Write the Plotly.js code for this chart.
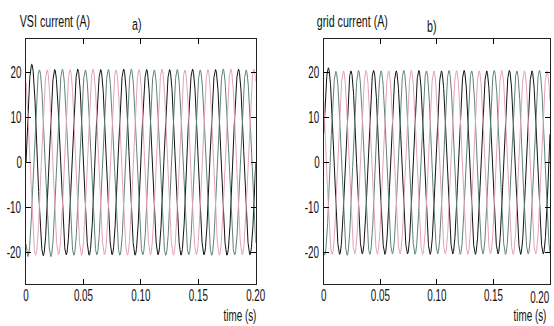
<!DOCTYPE html>
<html>
<head>
<meta charset="utf-8">
<script src="https://cdn.plot.ly/plotly-3.0.1.min.js"></script>
<style>html,body{margin:0;padding:0;background:#fff;}#chart{width:554px;height:326px;}</style>
</head>
<body>
<div id="chart"></div>
<script>
// ---- data ----
const freqHz = 50;                 // grid frequency (30 peaks in 0.2 s for 3 phases)
const tStart = 0, tEnd = 0.2;
const phaseShiftDeg = [0, -120, 120];          // phases a, b, c
const phaseColors = ['#111111', '#5f8279', '#e3a3b6'];
// peak values per half-cycle (positive peak, negative peak) for 10 cycles
const vsiPosPeaks = [
  [21.9, 20.7, 20.8, 20.7, 20.8, 20.7, 20.7, 20.8, 20.7, 20.8],
  [20.6, 20.8, 20.6, 20.7, 20.8, 20.6, 20.7, 20.6, 20.8, 20.6],
  [20.8, 20.6, 20.7, 20.8, 20.6, 20.7, 20.8, 20.6, 20.7, 20.8]
];
const vsiNegPeaks = [
  [20.7, 20.5, 20.6, 20.5, 20.6, 20.5, 20.6, 20.5, 20.6, 20.5],
  [20.9, 20.6, 20.5, 20.6, 20.5, 20.6, 20.5, 20.6, 20.5, 20.6],
  [20.6, 20.5, 20.6, 20.5, 20.6, 20.5, 20.6, 20.5, 20.6, 20.5]
];
const gridPosPeaks = [
  [21.1, 20.4, 20.5, 20.4, 20.5, 20.4, 20.5, 20.4, 20.5, 20.4],
  [20.3, 20.5, 20.4, 20.5, 20.4, 20.5, 20.4, 20.5, 20.4, 20.5],
  [20.5, 20.4, 20.5, 20.4, 20.5, 20.4, 20.5, 20.4, 20.5, 20.4]
];
const gridNegPeaks = [
  [20.4, 20.3, 20.4, 20.3, 20.4, 20.3, 20.4, 20.3, 20.4, 20.3],
  [20.6, 20.4, 20.3, 20.4, 20.3, 20.4, 20.3, 20.4, 20.3, 20.4],
  [20.4, 20.3, 20.4, 20.3, 20.4, 20.3, 20.4, 20.3, 20.4, 20.3]
];
const gridPhaseLagDeg = 18;         // grid current slightly shifted vs VSI current
const xTickVals = [0, 0.05, 0.10, 0.15, 0.20];
const xTickText = ['0', '0.05', '0.10', '0.15', '0.20'];
const yTickVals = [20, 10, 0, -10, -20];
const yTickText = ['20', '10', '0', '-10', '-20'];

// ---- build waveforms from the read peaks ----
const N = 1601;
const timeS = [];
for (let i = 0; i < N; i++) timeS.push(tStart + (tEnd - tStart) * i / (N - 1));

function wave(pos, neg, shiftDeg) {
  const w = 2 * Math.PI * freqHz;
  const sh = shiftDeg * Math.PI / 180;
  return timeS.map(t => {
    const ang = w * t + sh;
    const s = Math.sin(ang);
    let cyc = Math.floor(ang / (2 * Math.PI));
    cyc = Math.max(0, Math.min(pos.length - 1, cyc));
    return s >= 0 ? s * pos[cyc] : s * neg[cyc];
  });
}

const traces = [];
[0, 1, 2].forEach(k => {
  traces.push({x: timeS, y: wave(vsiPosPeaks[k], vsiNegPeaks[k], phaseShiftDeg[k]),
    type: 'scatter', mode: 'lines', line: {color: phaseColors[k], width: 1},
    xaxis: 'x', yaxis: 'y', showlegend: false, hoverinfo: 'skip'});
});
[0, 1, 2].forEach(k => {
  traces.push({x: timeS, y: wave(gridPosPeaks[k], gridNegPeaks[k], phaseShiftDeg[k] + gridPhaseLagDeg),
    type: 'scatter', mode: 'lines', line: {color: phaseColors[k], width: 1},
    xaxis: 'x2', yaxis: 'y2', showlegend: false, hoverinfo: 'skip'});
});

const FONT = 'Liberation Sans, Arial, sans-serif';
function xAx(domain, anchor, ticktext) {
  return {domain: domain, anchor: anchor, range: [0, 0.2], tickmode: 'array',
    tickvals: xTickVals, ticktext: ticktext, ticks: 'inside', ticklen: 5,
    tickcolor: '#000', showline: true, linecolor: '#222', linewidth: 1,
    mirror: 'ticks', showgrid: false, zeroline: false,
    tickfont: {family: FONT, size: 12, color: '#111'}};
}
function yAx(anchor) {
  return {domain: [0, 1], anchor: anchor, range: [-27, 27.5], tickmode: 'array',
    tickvals: yTickVals, ticktext: yTickText, ticks: 'inside', ticklen: 5,
    tickcolor: '#000', showline: true, linecolor: '#222', linewidth: 1,
    mirror: 'ticks', showgrid: false, zeroline: false,
    tickfont: {family: FONT, size: 12, color: '#111'}};
}

// plot area spans y = 39..284 px, x = 0..554 px (margins l=r=0)
const PX = px => px / 554;
const PY = py => (284 - py) / 245;
function label(text, px, py, anchor, size) {
  return {text: text, xref: 'paper', yref: 'paper', x: PX(px), y: PY(py),
    xanchor: anchor, yanchor: 'middle', showarrow: false,
    font: {family: FONT, size: size, color: '#111'}};
}

// panel b: the last tick label sits at the window edge, so it is drawn as a label kept inside
const xTickTextB = xTickText.slice(0, -1).concat(['']);

const layout = {
  width: 554, height: 326,
  margin: {l: 0, r: 0, t: 39, b: 42},
  paper_bgcolor: '#fff', plot_bgcolor: '#fff',
  xaxis: xAx([26 / 554, 255.7 / 554], 'y', xTickText),
  yaxis: yAx('x'),
  xaxis2: xAx([323.8 / 554, 550 / 554], 'y2', xTickTextB),
  yaxis2: yAx('x2'),
  annotations: [
    label('VSI current (A)', 10, 21, 'left', 13),
    label('a)', 137, 25, 'center', 13),
    label('time (s)', 239.5, 316, 'center', 12),
    label('grid current (A)', 307, 21, 'left', 13),
    label('b)', 432, 26, 'center', 13),
    label(xTickText[xTickText.length - 1], 540, 298, 'center', 12),
    label('time (s)', 530, 316, 'center', 12)
  ]
};

Plotly.newPlot('chart', traces, layout, {displayModeBar: false, staticPlot: true}).then(gd => {
  // the reference's lettering is narrow and tall: condense every text around its own centre
  const sx = 0.82, sy = 1.3;
  gd.querySelectorAll('svg text').forEach(t => {
    if (!t.textContent) return;
    const b = t.getBBox();
    const cx = b.x + b.width / 2, cy = b.y + b.height / 2;
    const old = t.getAttribute('transform') || '';
    t.setAttribute('transform', old + ` translate(${cx},${cy}) scale(${sx},${sy}) translate(${-cx},${-cy})`);
  });
});
</script>
</body>
</html>
